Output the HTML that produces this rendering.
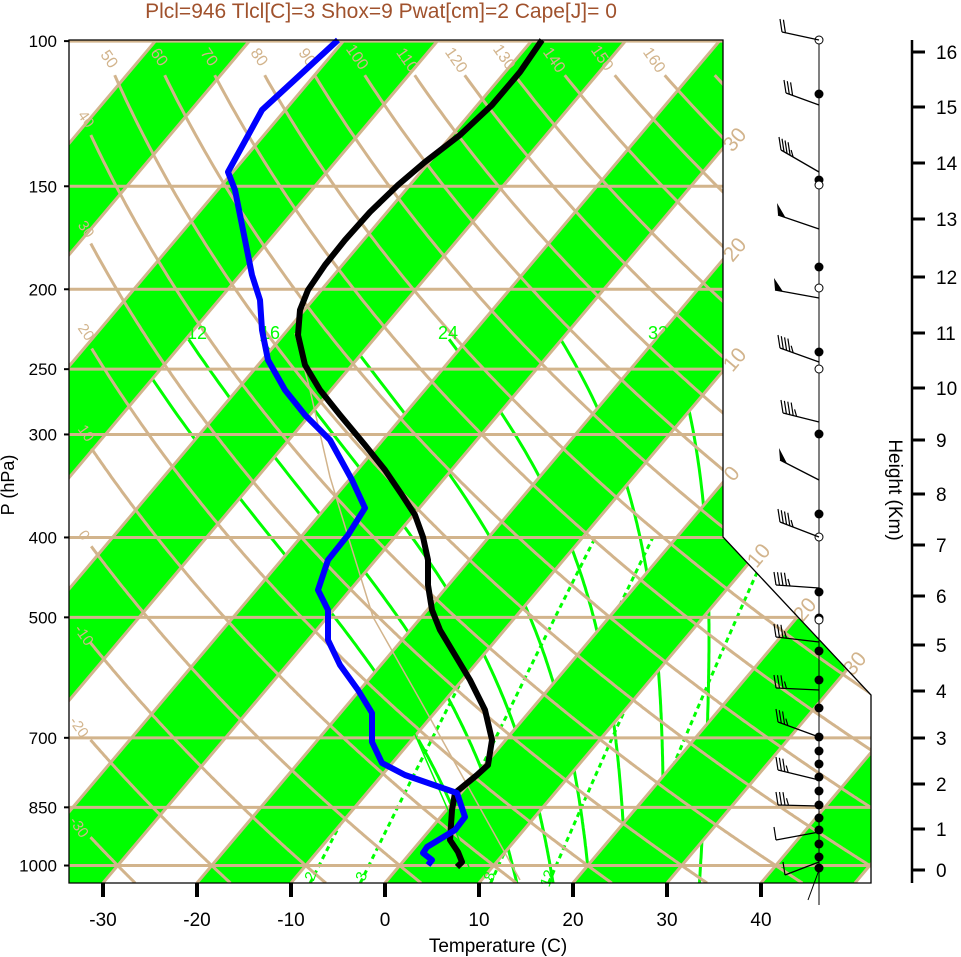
<!DOCTYPE html>
<html><head><meta charset="utf-8">
<style>
html,body{margin:0;padding:0;background:#fff;width:961px;height:957px;overflow:hidden}
svg{display:block;font-family:"Liberation Sans",Arial,sans-serif}
</style></head>
<body>
<svg id="s" width="961" height="957" viewBox="0 0 961 957" xmlns="http://www.w3.org/2000/svg">
<defs><clipPath id="cp"><polygon points="69,40 723,40 723,537 871,695 871,883 69,883"/></clipPath></defs>
<g id="plot" clip-path="url(#cp)"></g>
<g id="over"></g>
</svg>
<script>
const NS="http://www.w3.org/2000/svg";
const plot=document.getElementById('plot'), over=document.getElementById('over');
function el(parent,tag,attrs,text){const e=document.createElementNS(NS,tag);for(const k in attrs)e.setAttribute(k,attrs[k]);if(text!==undefined)e.textContent=text;parent.appendChild(e);return e;}
const Yd=p=>132.182-44.061*Math.log10(p);
const X=(T,p)=>399.75+17.407*(0.54*T+0.90692*Yd(p));
const PY=p=>883-(Yd(p)+0.935)*18.711;
const GREEN="#00ff00", TAN="#d2b48c";
function pts(a){return a.map(q=>q[0].toFixed(1)+","+q[1].toFixed(1)).join(" ");}
for(let T=-160;T<=40;T+=20){
  const a=[[X(T,1050),PY(1050)],[X(T+10,1050),PY(1050)],[X(T+10,100),PY(100)],[X(T,100),PY(100)]];
  el(plot,'polygon',{points:pts(a),fill:GREEN});
}
const Rd=287.04,cp=1005.7,Lv=2.501e6,eps=0.622;
function es(Tc){return 6.112*Math.exp(17.67*Tc/(Tc+243.5));}
function dTdp(T,p){const Tc=T-273.15;const e=es(Tc);const rs=eps*e/(p-e);
  return (1/p)*(Rd*T+Lv*rs)/(cp+Lv*Lv*rs*eps/(Rd*T*T));}
[8,12,16,20,24,28,32].forEach(tw=>{
  let a=[];let T=tw+273.15;
  let T2=T;for(let pp=1000;pp<1050;pp+=1){T2+=dTdp(T2,pp);}
  a.push([X(T2-273.15,1050),PY(1050)]);
  for(let pp=1000;pp>=230;pp-=1){ if(pp%5==0)a.push([X(T-273.15,pp),PY(pp)]); T-=dTdp(T,pp);}
  el(plot,'polyline',{points:pts(a.sort((u,v)=>v[1]-u[1])),fill:'none',stroke:GREEN,'stroke-width':3});
});
[2,3,5,8,12,20].forEach(r=>{
  let a=[];for(let p=1050;p>=400;p-=10){const e=r/1000*p/(eps+r/1000);const l=Math.log(e/6.112);const Td=243.5*l/(17.67-l);a.push([X(Td,p),PY(p)]);}
  el(plot,'polyline',{points:pts(a),fill:'none',stroke:GREEN,'stroke-width':3,'stroke-dasharray':'5,4'});
});
for(let T=-160;T<=50;T+=10){el(plot,'line',{x1:X(T,1050),y1:PY(1050),x2:X(T,100),y2:PY(100),stroke:TAN,'stroke-width':3});}
for(let th=-30;th<=170;th+=10){let a=[];for(let p=1050;p>=110;p-=2){const T=(th+273.15)*Math.pow(p/1000,0.286)-273.15;const x=X(T,p);if(x<90)break;a.push([x,PY(p)]);}
  if(a.length>1)el(plot,'polyline',{points:pts(a),fill:'none',stroke:TAN,'stroke-width':3});}
[100,150,200,250,300,400,500,700,850,1000].forEach(p=>{el(plot,'line',{x1:69,x2:871,y1:PY(p),y2:PY(p),stroke:TAN,'stroke-width':3});});
el(plot,'polyline',{points:"295,333 310,390 330,477 347,533 373,617 420,700 470,790 520,880",fill:'none',stroke:TAN,'stroke-width':1.5});
el(plot,'polyline',{points:"413,730 448,810 470,870",fill:'none',stroke:GREEN,'stroke-width':1.5});
const tl=(x,y,t,rot,fs)=>el(over,'text',{x:x,y:y,fill:TAN,'font-size':fs||15,'text-anchor':'middle',transform:`rotate(${rot} ${x} ${y})`},t);
[[50,105,62],[60,155,60],[70,205,60],[80,255,60],[90,303,60],[100,353,60],[110,403,63],[120,452,63],[130,500,60],[140,550,63],[150,598,61],[160,650,63]].forEach(q=>tl(q[1],q[2],String(q[0]),55,16));
[[40,82,122],[30,82,232],[20,82,335],[10,82,436],[0,80,538],[-10,80,638],[-20,75,730],[-30,75,830]].forEach(q=>tl(q[1],q[2],String(q[0]),55,15));
[["30",740,144],["20",740,254],["10",740,364],["0",737,478],["10",764,560],["20",810,614],["30",860,668]].forEach(q=>tl(q[1],q[2],q[0],-50,21));
[["12",197,339],["16",270,339],["24",448,339],["32",658,339]].forEach(q=>el(over,'text',{x:q[1],y:q[2],fill:GREEN,'font-size':18,'text-anchor':'middle'},q[0]));
[["2",315,878],["3",366,878],["8",494,878],["12",552,880]].forEach(q=>el(over,'text',{x:q[1],y:q[2],fill:GREEN,'font-size':15,'text-anchor':'middle',transform:`rotate(-70 ${q[1]} ${q[2]})`},q[0]));
el(over,'polyline',{points:"542,40 520,72 492,105 460,135 425,162 398,185 370,212 345,240 325,265 308,290 300,310 298,335 305,365 320,390 340,415 365,445 385,470 402,495 415,515 423,537 428,560 428,585 432,610 440,630 455,655 470,680 485,710 492,740 488,765 477,775 455,793 452,810 450,840 458,852 462,862 457,867",fill:'none',stroke:'#000','stroke-width':6,'stroke-linejoin':'round'});
el(over,'polyline',{points:"338,40 300,75 262,110 228,172 235,190 245,240 252,275 260,300 262,330 268,360 285,390 305,415 330,440 352,480 365,508 348,535 328,560 318,590 328,610 328,640 340,665 358,690 372,713 372,742 382,763 405,775 457,793 465,817 455,830 427,847 423,853 432,860 428,865",fill:'none',stroke:'#0000ff','stroke-width':6,'stroke-linejoin':'round'});
el(over,'polygon',{points:"69,40 723,40 723,537 871,695 871,883 69,883",fill:'none',stroke:'#000','stroke-width':1.3});
[100,150,200,250,300,400,500,700,850,1000].forEach(p=>{const y=PY(p);el(over,'line',{x1:64,x2:69,y1:y,y2:y,stroke:'#000','stroke-width':2});el(over,'text',{x:57,y:y+6,'font-size':17,'text-anchor':'end',fill:'#000'},String(p));});
el(over,'text',{x:14,y:485,'font-size':18,'text-anchor':'middle',transform:'rotate(-90 14 485)'},'P (hPa)');
for(let T=-30;T<=40;T+=10){const x=X(T,1050);el(over,'line',{x1:x,x2:x,y1:883,y2:897,stroke:'#000','stroke-width':4});el(over,'text',{x:x,y:926,'font-size':19,'text-anchor':'middle'},String(T));}
el(over,'text',{x:498,y:952,'font-size':19,'text-anchor':'middle'},'Temperature (C)');
el(over,'text',{x:381,y:18,'font-size':21,'text-anchor':'middle',fill:'#a0522d'},'Plcl=946 Tlcl[C]=3 Shox=9 Pwat[cm]=2 Cape[J]= 0');
el(over,'line',{x1:912,y1:40,x2:912,y2:883,stroke:'#000','stroke-width':2.5});
const hy=[870,829,784,738,691,645,596,545,494,440,388,333,277,219,163,107,52];
hy.forEach((y,i)=>{el(over,'line',{x1:912,x2:925,y1:y,y2:y,stroke:'#000','stroke-width':3});el(over,'text',{x:936,y:y+7,'font-size':19},String(i));});
el(over,'text',{x:889,y:490,'font-size':19,'text-anchor':'middle',transform:'rotate(90 889 490)'},'Height (Km)');
el(over,'line',{x1:819,y1:40,x2:819,y2:905,stroke:'#000','stroke-width':1});
[94,180,267,352,434,514,592,618,651,680,708,737,751,764,777,791,805,818,830,844,857,868].forEach(y=>el(over,'circle',{cx:819,cy:y,r:4.5,fill:'#000'}));
[40,185,288,369,537,620].forEach(y=>el(over,'circle',{cx:819,cy:y,r:4,fill:'#fff',stroke:'#000','stroke-width':1}));
function barb(ay,tx,ty,n,pen){
  el(over,'line',{x1:819,y1:ay,x2:tx,y2:ty,stroke:'#000','stroke-width':1.3});
  const dx=819-tx,dy=ay-ty,L=Math.hypot(dx,dy),ux=dx/L,uy=dy/L;
  if(pen){el(over,'polygon',{points:`${tx},${ty} ${tx+ux*8},${ty+uy*8} ${tx-1},${ty-12}`,fill:'#000'});return;}
  for(let i=0;i<n;i++){const px=tx+ux*i*3.5,py=ty+uy*i*3.5;const len=(i==n-1&&n>3)?7:13;el(over,'line',{x1:px,y1:py,x2:px-2,y2:py-len,stroke:'#000','stroke-width':1.2});}
}
barb(40,782,32,2);barb(105,786,93,3);barb(172,781,150,5);barb(229,778,215,0,1);barb(298,775,290,0,1);
barb(362,780,348,5);barb(422,783,413,5);barb(480,780,460,0,1);barb(537,780,522,5);barb(588,776,585,5);
barb(642,776,637,4);barb(690,776,688,4);barb(737,778,722,4);barb(780,778,770,4);barb(806,778,805,4);
barb(832,776,840,1);barb(862,785,875,1);
el(over,'line',{x1:819,y1:870,x2:808,y2:900,stroke:'#000','stroke-width':1});
</script>
</body></html>
